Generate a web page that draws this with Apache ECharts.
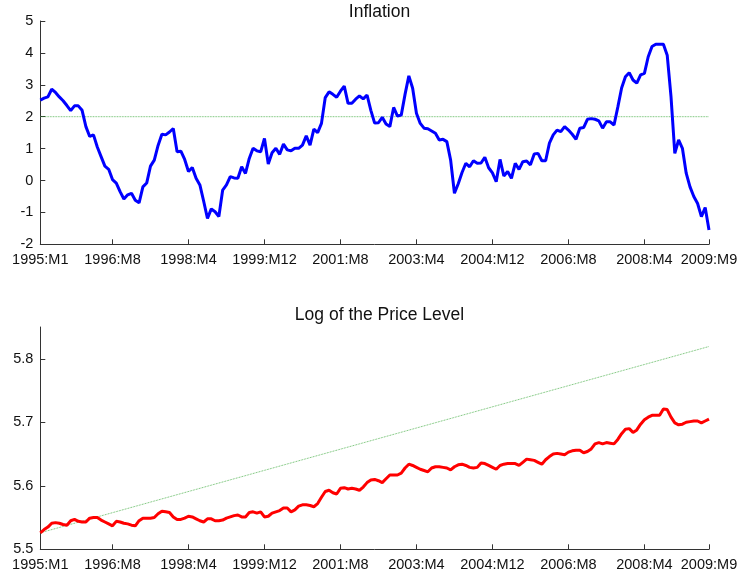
<!DOCTYPE html>
<html>
<head>
<meta charset="utf-8">
<style>html,body{margin:0;padding:0;background:#fff}#c{width:744px;height:575px}</style>
<script src="https://cdn.jsdelivr.net/npm/echarts@6/dist/echarts.min.js"></script>
</head>
<body>
<div id="c"></div>
<script>
// Monthly categories 1995:M1 .. 2009:M9 (177 months)
var months = [];
for (var i = 0; i < 177; i++) {
  months.push((1995 + Math.floor(i / 12)) + ':M' + (i % 12 + 1));
}
var tickLabels = ['1995:M1','1996:M8','1998:M4','1999:M12','2001:M8','2003:M4','2004:M12','2006:M8','2008:M4','2009:M9'];

var inflation = [
 2.52,2.58,2.62,2.86,2.76,2.62,2.50,2.35,2.19,2.34,
 2.34,2.20,1.69,1.38,1.43,1.05,0.75,0.45,0.35,0.03,
 -0.08,-0.35,-0.58,-0.45,-0.40,-0.62,-0.70,-0.20,-0.08,0.45,
 0.64,1.10,1.45,1.43,1.52,1.63,0.90,0.92,0.66,0.28,
 0.41,0.07,-0.14,-0.65,-1.19,-0.89,-0.98,-1.13,-0.30,-0.14,
 0.12,0.08,0.07,0.43,0.22,0.69,1.01,0.93,0.90,1.32,
 0.52,0.87,1.01,0.82,1.14,0.96,0.93,1.01,1.01,1.11,
 1.40,1.11,1.61,1.50,1.79,2.60,2.78,2.70,2.61,2.80,
 2.96,2.42,2.42,2.55,2.65,2.56,2.68,2.20,1.80,1.81,
 1.98,1.77,1.69,2.29,2.02,2.05,2.70,3.28,2.89,2.11,
 1.79,1.64,1.62,1.55,1.48,1.27,1.29,1.22,0.64,-0.40,
 -0.10,0.25,0.54,0.43,0.62,0.54,0.55,0.73,0.40,0.24,
 -0.04,0.66,0.14,0.28,0.07,0.54,0.35,0.59,0.61,0.49,
 0.83,0.85,0.62,0.62,1.17,1.43,1.58,1.53,1.69,1.58,
 1.45,1.29,1.64,1.66,1.92,1.94,1.92,1.87,1.64,1.84,
 1.84,1.74,2.30,2.90,3.25,3.38,3.15,3.05,3.31,3.36,
 3.88,4.20,4.27,4.27,4.27,3.93,2.63,0.85,1.27,1.01,
 0.23,-0.20,-0.50,-0.72,-1.13,-0.85,-1.55
];

var logPrice = [
 5.526,5.531,5.535,5.541,5.542,5.541,5.539,5.538,5.545,5.547,
 5.544,5.543,5.543,5.549,5.550,5.550,5.546,5.543,5.540,5.537,
 5.544,5.543,5.541,5.540,5.538,5.537,5.545,5.549,5.549,5.549,
 5.550,5.556,5.560,5.559,5.558,5.551,5.547,5.547,5.549,5.552,
 5.551,5.548,5.545,5.543,5.548,5.548,5.545,5.545,5.546,5.549,
 5.551,5.553,5.554,5.551,5.551,5.558,5.559,5.557,5.559,5.551,
 5.552,5.557,5.559,5.561,5.565,5.565,5.559,5.562,5.568,5.570,
 5.570,5.569,5.567,5.572,5.582,5.591,5.593,5.589,5.587,5.596,
 5.597,5.595,5.596,5.595,5.593,5.598,5.605,5.609,5.610,5.608,
 5.605,5.611,5.617,5.617,5.617,5.620,5.628,5.634,5.632,5.629,
 5.626,5.624,5.622,5.628,5.630,5.630,5.629,5.628,5.625,5.630,
 5.633,5.634,5.632,5.629,5.628,5.629,5.636,5.635,5.632,5.629,
 5.626,5.632,5.634,5.635,5.635,5.635,5.632,5.637,5.642,5.641,
 5.640,5.637,5.634,5.641,5.646,5.650,5.651,5.650,5.649,5.653,
 5.655,5.656,5.656,5.652,5.654,5.658,5.666,5.668,5.666,5.668,
 5.667,5.666,5.673,5.682,5.689,5.690,5.684,5.688,5.697,5.704,
 5.708,5.711,5.711,5.711,5.721,5.720,5.708,5.699,5.696,5.697,
 5.700,5.701,5.702,5.702,5.699,5.702,5.705
];

// Reference lines (endpoints only)
var inflationTarget = [2, 2];
var priceTarget = [5.526, 5.8193];

var inflationTicks = [-2, -1, 0, 1, 2, 3, 4, 5];
var priceTicks = [5.5, 5.6, 5.7, 5.8];

var FONT = '"Liberation Sans", Arial, Helvetica, sans-serif';
var isTick = function (idx) { return tickLabels.indexOf(months[idx]) >= 0; };

function xAxis(gridIndex) {
  return {
    type: 'category', gridIndex: gridIndex, data: months, boundaryGap: false,
    axisLine: { onZero: false, lineStyle: { color: '#333', width: 1 } },
    axisTick: { show: true, inside: true, length: 5, interval: function (i) { return isTick(i); }, lineStyle: { color: '#333' } },
    axisLabel: { interval: function (i) { return isTick(i); }, color: '#111', fontFamily: FONT, fontSize: 14.5, margin: 8 },
    splitLine: { show: false }
  };
}
function yAxis(gridIndex, min, max, interval, ticks, fmt) {
  return {
    type: 'value', gridIndex: gridIndex, min: min, max: max, interval: interval,
    axisLine: { show: true, onZero: false, lineStyle: { color: '#333', width: 1 } },
    axisTick: { show: true, inside: true, length: 5, customValues: ticks, lineStyle: { color: '#333' } },
    axisLabel: { customValues: ticks, color: '#111', fontFamily: FONT, fontSize: 14.5, margin: 7, formatter: fmt },
    splitLine: { show: false }
  };
}

var chart = echarts.init(document.getElementById('c'), null, { renderer: 'canvas' });
chart.setOption({
  animation: false,
  backgroundColor: '#fff',
  title: [
    { text: 'Inflation', left: 374.5, top: -2, textAlign: 'center',
      textStyle: { fontFamily: FONT, fontSize: 17.5, fontWeight: 'normal', color: '#111' } },
    { text: 'Log of the Price Level', left: 374.5, top: 301, textAlign: 'center',
      textStyle: { fontFamily: FONT, fontSize: 17.5, fontWeight: 'normal', color: '#111' } }
  ],
  grid: [
    { left: 40.3, top: 21, width: 668.7, height: 223.3 },
    { left: 40.3, top: 327, width: 668.7, height: 222.3 }
  ],
  xAxis: [xAxis(0), xAxis(1)],
  yAxis: [
    yAxis(0, -2, 5, 1, inflationTicks, function (v) { return String(v); }),
    yAxis(1, 5.5, 5.85, 0.1, priceTicks, function (v) { return v.toFixed(1); })
  ],
  series: [
    { type: 'line', xAxisIndex: 0, yAxisIndex: 0, showSymbol: false, silent: true,
      data: [[months[0], inflationTarget[0]], [months[176], inflationTarget[1]]],
      lineStyle: { color: '#3aa83a', width: 0.8, type: 'dotted' }, z: 1 },
    { type: 'line', xAxisIndex: 0, yAxisIndex: 0, showSymbol: false, silent: true,
      data: inflation, lineStyle: { color: '#0000ff', width: 3 }, z: 2 },
    { type: 'line', xAxisIndex: 1, yAxisIndex: 1, showSymbol: false, silent: true,
      data: [[months[0], priceTarget[0]], [months[176], priceTarget[1]]],
      lineStyle: { color: '#3aa83a', width: 0.8, type: 'dotted' }, z: 1 },
    { type: 'line', xAxisIndex: 1, yAxisIndex: 1, showSymbol: false, silent: true,
      data: logPrice, lineStyle: { color: '#ff0000', width: 3 }, z: 2 }
  ]
});
</script>
</body>
</html>
